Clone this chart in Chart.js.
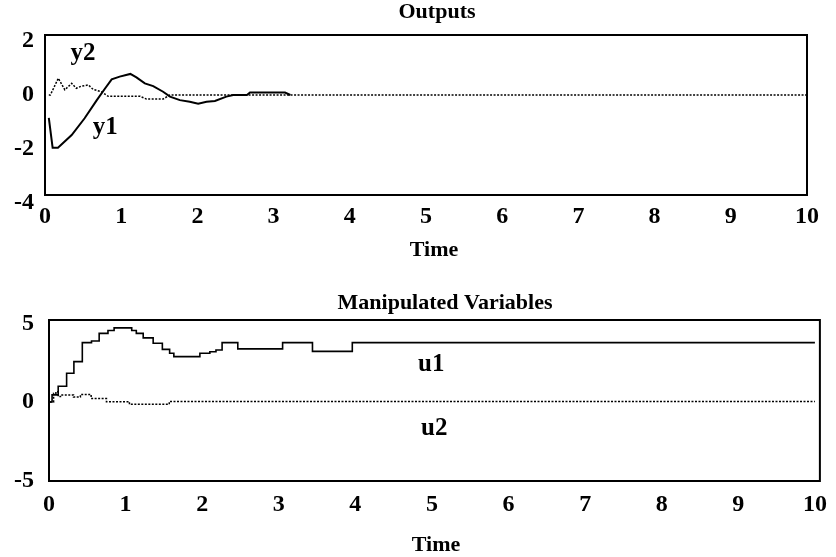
<!DOCTYPE html>
<html>
<head>
<meta charset="utf-8">
<script src="https://cdn.jsdelivr.net/npm/chart.js@4.4.1/dist/chart.umd.min.js"></script>
<style>
  html, body { margin: 0; padding: 0; background: #fff; }
  .wrap { position: absolute; left: 0; width: 836px; }
  #topWrap { top: 0; height: 264px; }
  #bottomWrap { top: 280px; height: 277px; }
</style>
</head>
<body>
<div class="wrap" id="topWrap"><canvas id="outputs"></canvas></div>
<div class="wrap" id="bottomWrap"><canvas id="manipulated"></canvas></div>
<script>
// tick labels
const timeTicks = [0, 1, 2, 3, 4, 5, 6, 7, 8, 9, 10];
const outputTicks = [-4, -2, 0, 2];
const manipTicks = [-5, 0, 5];

// outputs
const y1Time  = [0.05, 0.10, 0.17, 0.35, 0.52, 0.68, 0.79, 0.875, 0.98, 1.12, 1.20, 1.31, 1.42, 1.55, 1.64, 1.77, 1.90, 2.01, 2.12, 2.23, 2.38, 2.47, 2.65, 2.69, 3.15, 3.22];
const y1Value = [-0.85, -1.95, -1.95, -1.48, -0.86, -0.19, 0.25, 0.58, 0.68, 0.78, 0.65, 0.43, 0.33, 0.12, -0.06, -0.19, -0.25, -0.32, -0.25, -0.22, -0.06, 0, 0, 0.09, 0.09, 0];

const y2Time  = [0.05, 0.07, 0.175, 0.26, 0.35, 0.41, 0.48, 0.57, 0.63, 0.74, 0.83, 1.25, 1.33, 1.55, 1.64, 10];
const y2Value = [0, 0, 0.62, 0.19, 0.43, 0.25, 0.33, 0.37, 0.21, 0.12, -0.05, -0.05, -0.15, -0.15, 0, 0];

// manipulated variables (step changes: time, new level)
const u1Time  = [0.01, 0.04, 0.12, 0.23, 0.325, 0.435, 0.555, 0.655, 0.77, 0.85, 1.08, 1.14, 1.23, 1.36, 1.48, 1.575, 1.63, 1.97, 2.10, 2.18, 2.26, 2.465, 3.05, 3.44, 3.96, 10];
const u1Value = [0, 0.45, 1.0, 1.83, 2.57, 3.78, 3.88, 4.37, 4.55, 4.72, 4.55, 4.37, 4.08, 3.74, 3.35, 3.1, 2.89, 3.1, 3.2, 3.31, 3.78, 3.38, 3.78, 3.22, 3.78, 3.78];

const u2Time  = [0.01, 0.06, 0.09, 0.12, 0.15, 0.32, 0.41, 0.55, 0.75, 1.05, 1.57, 10];
const u2Value = [0, 0.55, 0.65, 0.35, 0.45, 0.32, 0.48, 0.22, 0.02, -0.15, 0.03, 0.03];

// curve labels
const outputNames = ['y2', 'y1'];
const outputNameAt = [0.5, 0.79];
const outputNameLevel = [1.55, -1.19];
const manipNames = ['u1', 'u2'];
const manipNameAt = [4.99, 5.03];
const manipNameLevel = [2.36, -1.66];

const serif = '"Liberation Serif", "Times New Roman", serif';
Chart.defaults.font.family = serif;
Chart.defaults.color = '#000';

function points(xs, ys) {
  return xs.map((x, i) => ({ x: x, y: ys[i] }));
}

// box round the plot area, title, axis name and curve names
const frame = {
  id: 'frame',
  afterDatasetsDraw(chart, args, opts) {
    const { ctx, chartArea: a, scales } = chart;
    ctx.save();
    ctx.strokeStyle = '#000';
    ctx.lineWidth = 2;
    ctx.strokeRect(a.left, a.top, a.width, a.height);
    ctx.fillStyle = '#000';
    ctx.textAlign = 'center';
    ctx.textBaseline = 'middle';
    ctx.font = 'bold 22px ' + serif;
    ctx.fillText(opts.title, opts.titleX, opts.titleY);
    ctx.font = 'bold 22px ' + serif;
    ctx.fillText('Time', opts.timeX, opts.timeY);
    ctx.font = 'bold 25px ' + serif;
    opts.names.forEach((n, i) => {
      ctx.fillText(n, scales.x.getPixelForValue(opts.at[i]), scales.y.getPixelForValue(opts.level[i]));
    });
    ctx.restore();
  }
};

function makeChart(id, c) {
  return new Chart(document.getElementById(id), {
    type: 'line',
    data: { datasets: c.datasets },
    plugins: [frame],
    options: {
      responsive: true,
      maintainAspectRatio: false,
      animation: false,
      layout: { padding: { left: 0, right: c.padRight, top: c.padTop, bottom: 0 } },
      elements: { point: { radius: 0 } },
      plugins: {
        legend: { display: false },
        tooltip: { enabled: false },
        title: { display: false },
        frame: {
          title: c.title, titleX: c.titleX, titleY: c.titleY,
          timeX: c.timeX, timeY: c.timeY,
          names: c.names, at: c.nameAt, level: c.nameLevel
        }
      },
      scales: {
        x: {
          type: 'linear',
          min: 0,
          max: c.xMax,
          afterBuildTicks: s => { s.ticks = timeTicks.map(v => ({ value: v })); },
          afterFit: s => { s.height = c.xHeight; },
          grid: { display: false, drawTicks: false },
          border: { display: false },
          ticks: { padding: c.xTickPad, autoSkip: false, maxRotation: 0, color: '#000', font: { size: 24, weight: 'bold' } }
        },
        y: {
          type: 'linear',
          min: c.yMin,
          max: c.yMax,
          afterBuildTicks: s => { s.ticks = c.yTicks.map(v => ({ value: v })); },
          afterFit: s => { s.width = c.yWidth; },
          grid: { display: false, drawTicks: false },
          border: { display: false },
          ticks: { padding: c.yTickPad, autoSkip: false, color: '#000', font: { size: 24, weight: 'bold' } }
        }
      }
    }
  });
}

makeChart('outputs', {
  title: 'Outputs', titleX: 437, titleY: 12,
  timeX: 434, timeY: 250,
  padTop: 35,
  padRight: 29,
  xMax: 10,
  xHeight: 69,
  xTickPad: 7,
  yMin: -3.70,
  yMax: 2.22,
  yTicks: outputTicks,
  yWidth: 45,
  yTickPad: 11,
  names: outputNames,
  nameAt: outputNameAt,
  nameLevel: outputNameLevel,
  datasets: [
    { label: 'y1', data: points(y1Time, y1Value), borderColor: '#000', borderWidth: 2, fill: false },
    { label: 'y2', data: points(y2Time, y2Value), borderColor: '#000', borderWidth: 1.5, borderDash: [2, 1.5], fill: false }
  ]
});

makeChart('manipulated', {
  title: 'Manipulated Variables', titleX: 445, titleY: 23,
  timeX: 436, timeY: 265,
  padTop: 40,
  padRight: 14,
  xMax: 10.065,
  xHeight: 76,
  xTickPad: 9,
  yMin: -5.03,
  yMax: 5.22,
  yTicks: manipTicks,
  yWidth: 49,
  yTickPad: 15,
  names: manipNames,
  nameAt: manipNameAt,
  nameLevel: manipNameLevel,
  datasets: [
    { label: 'u1', data: points(u1Time, u1Value), stepped: 'before', borderColor: '#000', borderWidth: 1.6, fill: false },
    { label: 'u2', data: points(u2Time, u2Value), stepped: 'before', borderColor: '#000', borderWidth: 1.5, borderDash: [2, 1.5], fill: false }
  ]
});
</script>
</body>
</html>
